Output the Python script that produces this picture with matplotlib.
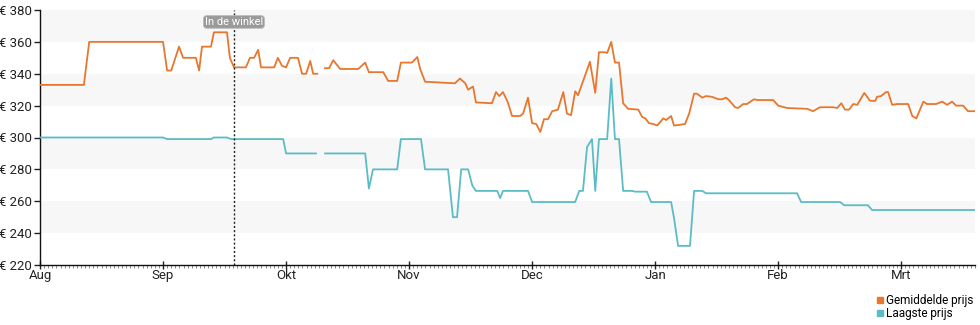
import numpy as np
import matplotlib.pyplot as plt
from matplotlib.lines import Line2D

plt.rcParams['font.family'] = ['Roboto', 'DejaVu Sans']

# days since 1 Aug (x axis uses 30-day month slots)
avg_days = [0, 10.7, 12.0, 30.0, 31.0, 32.0, 33.9, 34.9, 38.0, 38.8, 39.5, 41.7, 42.4, 45.6,
            46.3, 47.3, 50.2, 51.2, 52.2, 53.2, 53.9, 57.1, 58.0, 59.0, 60.0, 61.0, 62.9,
            63.9, 64.9, 65.9, 66.6, 67.6, 68.5,
            69.5, 70.5, 71.5, 73.2, 77.6, 79.3, 80.2, 81.2, 83.7, 84.9, 87.1, 88.0, 90.7,
            92.0, 92.7, 93.9, 101.2, 102.4, 103.7, 104.4, 105.6, 106.3, 110.2, 111.2, 112.0,
            112.9, 114.1, 115.1, 117.1, 117.8, 119.0, 120.0, 121.0, 122.0, 122.9, 123.9,
            124.9, 126.3, 127.6, 128.5, 129.5, 130.5, 131.2, 134.1, 135.4, 136.3, 137.8,
            138.3, 139.3, 140.2, 141.2, 142.2, 143.4, 145.9, 146.8, 147.6, 148.5, 149.5,
            150.5, 152.0, 152.7, 153.9, 154.6, 156.1, 157.3, 158.3, 159.5, 160.2, 161.5,
            162.4, 163.9, 165.4, 166.3, 167.3, 168.0, 169.5, 170.2, 171.5, 172.4, 174.1,
            174.9, 178.8, 180.0, 182.2, 187.1, 188.5, 190.2, 193.4, 194.4, 195.4, 196.3,
            197.3, 198.3, 199.3, 201.0, 202.4, 203.7, 204.1, 205.1, 206.3, 206.8, 207.8,
            209.0, 211.7, 212.7, 213.7, 215.4, 216.3, 218.5, 220.0, 221.2, 222.4, 223.4,
            225.1, 226.3, 228.0]
avg_price = [333, 333, 360, 360, 342, 342, 357, 350, 350, 342, 357, 357, 366, 366,
             350, 344, 344, 350, 350, 355, 344, 344, 350, 345, 344, 350, 350,
             340, 340, 348, 340, 340, np.nan,
             343.5, 343.5, 348.5, 343, 343, 347, 341, 341, 341, 335.5, 335.5, 347, 347,
             350.5, 343, 335, 334, 337, 334, 330, 332, 322, 321.5, 328.5, 326,
             328.5, 322, 313.5, 313.5, 315, 325, 309, 308.5, 303.5, 311.5, 311.5,
             316.5, 317.5, 328.5, 315, 314, 329, 326.5, 347.5, 328, 353.5, 353.5,
             353, 360, 347, 347, 321.5, 318, 317.5, 313, 312, 309, 308.5,
             307.5, 312, 311, 313.5, 307.5, 308, 308.5, 315, 327.5, 327.5, 325,
             326, 325.5, 324, 324, 325, 323.5, 319, 318.5, 321, 321, 324,
             323.5, 323.5, 320, 318.5, 318, 316.5, 319, 319, 318.5, 321.5,
             317.5, 317.5, 321, 320.5, 328, 323, 323, 325.5, 326, 328.5, 328.5,
             320.5, 321, 321, 313.5, 312, 322.5, 321, 321, 322.5, 320.5, 322.5,
             320, 320, 316.5, 316.5]

low_days = [0, 30.0, 31.0, 41.7, 42.4, 45.6, 46.6, 59.3, 60.0, 67.3, 68.4,
            69.5, 79.3, 80.2, 81.2, 87.1, 88.0, 92.9, 93.9, 99.5, 100.7, 101.7, 102.7,
            104.4, 105.4, 106.3, 111.5, 112.2, 112.9, 119.0, 120.0, 130.5, 131.5, 132.4,
            133.4, 134.6, 135.4, 136.3, 138.3, 139.3, 140.2, 141.2, 142.2, 144.4, 145.1,
            148.0, 149.0, 153.9, 154.6, 155.6, 158.5, 159.5, 161.5, 162.4, 184.6, 185.6,
            195.1, 196.1, 201.9, 202.9, 228.0]
low_price = [300, 300, 299, 299, 300, 300, 299, 299, 290, 290, np.nan,
             290, 290, 268, 280, 280, 299, 299, 280, 280, 250, 250, 280,
             280, 270, 266.5, 266.5, 262, 266.5, 266.5, 259.5, 259.5, 266.5, 266.5,
             294, 299, 266.5, 299, 299, 337, 299, 299, 266.5, 266.5, 266,
             266, 259.5, 259.5, 249.5, 232, 232, 266.5, 266.5, 265, 265, 259.5,
             259.5, 257.5, 257.5, 254.5, 254.5]

months = ['Aug', 'Sep', 'Okt', 'Nov', 'Dec', 'Jan', 'Feb', 'Mrt']
store_day = 47.3

orange = '#e8772e'
teal = '#5bbcc6'

fig = plt.figure(figsize=(9.8, 3.25), dpi=100)
ax = fig.add_axes([40/980, 1-265/325, 935/980, 255/325])

# alternating horizontal bands
for lo in range(220, 380, 20):
    if (lo // 20) % 2 == 0:
        ax.axhspan(lo, lo + 20, color='#f7f7f7', lw=0, zorder=0)

ax.plot(avg_days, avg_price, color=orange, lw=1.3, zorder=3)
ax.plot(low_days, low_price, color=teal, lw=1.3, zorder=3)

ax.axvline(store_day, color='#222222', lw=1, ls=(0, (1.5, 1.5)), zorder=4)
ax.text(store_day, 372.5, 'In de winkel', ha='center', va='center', fontsize=8,
        color='white', zorder=5,
        bbox=dict(boxstyle='round,pad=0.12,rounding_size=0.3', fc='#9a9a9a', ec='#bbbbbb', lw=0.6))

ax.set_xlim(0, 228)
ax.set_ylim(220, 380)
ax.set_yticks(range(220, 381, 20))
ax.set_yticklabels(['€ %d' % v for v in range(220, 381, 20)])
ax.set_xticks([30 * i for i in range(len(months))])
ax.set_xticklabels(months)
ax.set_xticks(np.arange(0, 229, 1), minor=True)

for s in ['top', 'right']:
    ax.spines[s].set_visible(False)
for s in ['left', 'bottom']:
    ax.spines[s].set_color('#111111')
    ax.spines[s].set_linewidth(1)

ax.tick_params(axis='y', length=4, width=1, pad=2, labelsize=9.5, colors='#222222')
ax.tick_params(axis='x', which='major', direction='inout', length=6, width=1, pad=0,
               labelsize=9.5, colors='#222222')
ax.tick_params(axis='x', which='minor', direction='out', length=2, width=0.6, color='#777777')

handles = [Line2D([], [], ls='none', marker='s', ms=5, color=orange),
           Line2D([], [], ls='none', marker='s', ms=5, color=teal)]
ax.legend(handles, ['Gemiddelde prijs', 'Laagste prijs'], loc='upper right',
          bbox_to_anchor=(1.005, -0.09), frameon=False, fontsize=8.5,
          handlelength=0.6, handletextpad=0.2, labelspacing=0.05, borderpad=0)

fig.savefig('out.png', dpi=100)
